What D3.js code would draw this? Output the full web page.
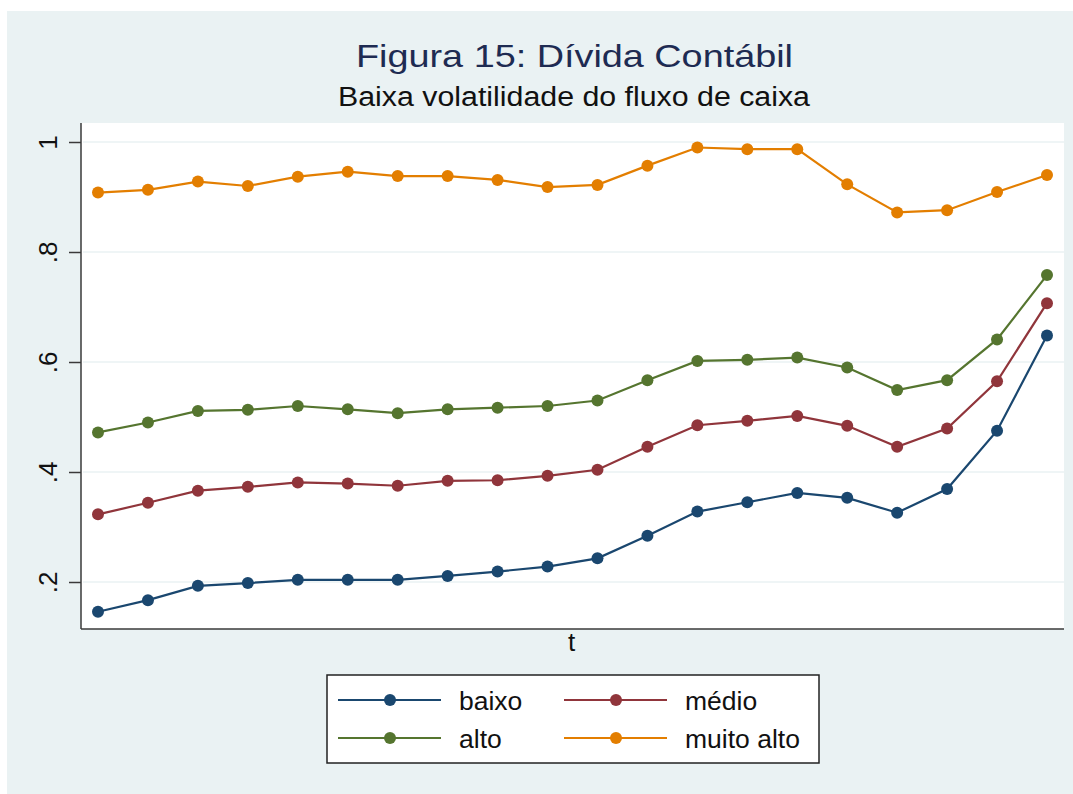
<!DOCTYPE html>
<html><head><meta charset="utf-8">
<script src="https://cdn.jsdelivr.net/npm/d3@7"></script>
<style>
html,body{margin:0;padding:0;background:#fff;}
svg{display:block;font-family:"Liberation Sans",Arial,sans-serif;}
</style></head>
<body><svg id="c" width="1073" height="794"></svg>
<script>
const periods = d3.range(1, 21);
const baixo = [0.146,0.167,0.193,0.198,0.204,0.204,0.204,0.211,0.219,0.228,0.243,0.284,0.328,0.345,0.362,0.353,0.326,0.369,0.475,0.648];
const medio = [0.323,0.344,0.366,0.373,0.381,0.379,0.375,0.384,0.385,0.393,0.404,0.446,0.485,0.493,0.502,0.484,0.446,0.479,0.565,0.707];
const alto = [0.472,0.490,0.511,0.513,0.520,0.514,0.507,0.514,0.517,0.520,0.530,0.567,0.602,0.604,0.608,0.590,0.549,0.567,0.641,0.758];
const muitoAlto = [0.908,0.913,0.928,0.920,0.937,0.946,0.938,0.938,0.931,0.918,0.922,0.957,0.990,0.987,0.987,0.923,0.872,0.876,0.909,0.940];
const seriesNames = ["baixo","médio","alto","muito alto"];
const seriesColors = ["#1a476f","#90353b","#55752f","#e37e00"];
const yTicks = [0.2,0.4,0.6,0.8,1];
const yTickLabels = [".2",".4",".6",".8","1"];
const titleText = "Figura 15: Dívida Contábil";
const subtitleText = "Baixa volatilidade do fluxo de caixa";
const xTitle = "t";

const allSeries = [baixo, medio, alto, muitoAlto];
const svg = d3.select("#c");

// background
svg.append("rect").attr("x",7).attr("y",11).attr("width",1066).attr("height",783).attr("fill","#eaf2f3");

const L=81, R=1064, T=123, B=629;
svg.append("rect").attr("x",L).attr("y",T).attr("width",R-L).attr("height",B-T).attr("fill","#ffffff");

const x = d3.scaleLinear().domain([1,20]).range([98,1047]);
const y = d3.scaleLinear().domain([0.2,1]).range([582,142]);

// grid
svg.append("g").selectAll("line").data(yTicks).join("line")
  .attr("x1",L+2).attr("x2",R).attr("y1",d=>y(d)).attr("y2",d=>y(d))
  .attr("stroke","#eaf2f3").attr("stroke-width",1.5);

// y axis
const yAxis = d3.axisLeft(y).tickValues(yTicks).tickSize(12).tickPadding(8)
  .tickFormat((d,i)=>yTickLabels[i]);
const gy = svg.append("g").attr("transform",`translate(${L},0)`).call(yAxis);
gy.select(".domain").attr("d",`M0,${T}V${B}`).attr("stroke","#3a3a3a").attr("stroke-width",1.5);
gy.selectAll(".tick line").attr("stroke","#3a3a3a").attr("stroke-width",1.5);
gy.selectAll(".tick text").attr("font-size",26).attr("fill","#111")
  .attr("font-family","'Liberation Sans',Arial,sans-serif")
  .attr("text-anchor","middle").attr("dy",null).attr("x",null)
  .attr("transform","translate(-33,0) rotate(-90)").attr("dominant-baseline","central");

// x axis (no ticks)
svg.append("line").attr("x1",L).attr("x2",R).attr("y1",B).attr("y2",B)
  .attr("stroke","#3a3a3a").attr("stroke-width",1.5);

// lines
const line = d3.line().x((d,i)=>x(periods[i])).y(d=>y(d));
allSeries.forEach((s,k)=>{
  svg.append("path").datum(s).attr("d",line).attr("fill","none")
    .attr("stroke",seriesColors[k]).attr("stroke-width",2.2);
  svg.append("g").selectAll("circle").data(s).join("circle")
    .attr("cx",(d,i)=>x(periods[i])).attr("cy",d=>y(d)).attr("r",6)
    .attr("fill",seriesColors[k]);
});

// titles
svg.append("text").attr("x",574.5).attr("y",67).attr("text-anchor","middle")
  .attr("font-size",32).attr("fill","#1e2b52")
  .attr("textLength",437).attr("lengthAdjust","spacingAndGlyphs").text(titleText);
svg.append("text").attr("x",574).attr("y",106).attr("text-anchor","middle")
  .attr("font-size",27).attr("fill","#111")
  .attr("textLength",472).attr("lengthAdjust","spacingAndGlyphs").text(subtitleText);
svg.append("text").attr("x",571.5).attr("y",651).attr("text-anchor","middle")
  .attr("font-size",26).attr("fill","#111").text(xTitle);

// legend
const lg = svg.append("g");
lg.append("rect").attr("x",327).attr("y",675).attr("width",492).attr("height",88)
  .attr("fill","#fff").attr("stroke","#222").attr("stroke-width",1.5);
const legPos = [[338,700],[564,700],[338,738],[564,738]];
seriesNames.forEach((n,k)=>{
  const [lx,ly]=legPos[k];
  lg.append("line").attr("x1",lx).attr("x2",lx+103).attr("y1",ly).attr("y2",ly)
    .attr("stroke",seriesColors[k]).attr("stroke-width",2.2);
  lg.append("circle").attr("cx",lx+52).attr("cy",ly).attr("r",6).attr("fill",seriesColors[k]);
  lg.append("text").attr("x",lx+121).attr("y",ly+10).attr("font-size",26.5).attr("fill","#111").text(n);
});
</script></body></html>
